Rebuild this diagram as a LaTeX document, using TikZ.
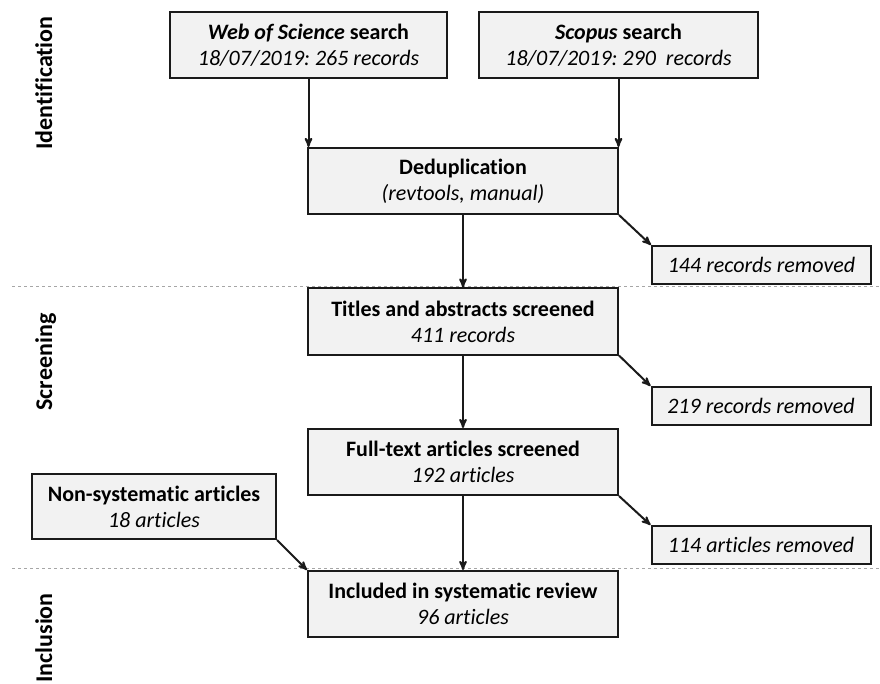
\documentclass[tikz,border=0pt]{standalone}
\usepackage{fontspec}
\setmainfont{Carlito}[Ligatures={TeX,NoCommon}]
\usetikzlibrary{arrows}
\definecolor{boxfill}{HTML}{F2F2F2}
\definecolor{boxline}{HTML}{1A1A1A}
\definecolor{sepline}{HTML}{A6A6A6}
\frenchspacing
\begin{document}
\begin{tikzpicture}[x=1pt,y=-1pt,>=stealth',
    box/.style={draw=boxline,fill=boxfill,line width=2pt,align=center,inner sep=0pt,
                minimum height=66pt,font=\fontsize{22}{26}\selectfont},
    removed/.style={box,minimum height=38pt,minimum width=219pt},
    phase/.style={rotate=90,anchor=base,font=\fontsize{24}{28}\selectfont\bfseries},
    flow/.style={->,line width=2pt,draw=boxline},
    sep/.style={draw=sepline,line width=1pt,dash pattern=on 3pt off 3pt}]
  \useasboundingbox (0,0) rectangle (880,684);

  % phase separators
  \draw[sep] (12,287) -- (880,287);
  \draw[sep] (12,568) -- (880,568);

  % phase labels
  \node[phase] (ident)  at (52,83)  {Identification};
  \node[phase] (screen) at (52,362) {Screening};
  \node[phase] (incl)   at (52,638) {Inclusion};

  % boxes
  \node[box,minimum width=277pt] (wos)    at (308.5,45) {\textbf{\textit{Web of Science} search}\\\textit{18/07/2019: 265 records}};
  \node[box,minimum width=279pt] (scopus) at (618.5,45) {\textbf{\textit{Scopus} search}\\\textit{18/07/2019: 290\ \ records}};
  \node[box,minimum width=310pt] (dedup)  at (463,181)  {\textbf{Deduplication}\\\textit{(revtools, manual)}};
  \node[removed] (rem1) at (761.5,265) {\textit{144 records removed}};
  \node[box,minimum width=310pt] (titles) at (463,321.5) {\textbf{Titles and abstracts screened}\\\textit{411 records}};
  \node[removed] (rem2) at (761,406) {\textit{219 records removed}};
  \node[box,minimum width=310pt] (full)   at (463,462)  {\textbf{Full-text articles screened}\\\textit{192 articles}};
  \node[box,minimum width=244pt,minimum height=65pt] (nonsys) at (154,506.5) {\textbf{Non-systematic articles}\\\textit{18 articles}};
  \node[removed] (rem3) at (761,545) {\textit{114 articles removed}};
  \node[box,minimum width=310pt] (review) at (463,604)  {\textbf{Included in systematic review}\\\textit{96 articles}};

  % connectors
  \draw[flow] (wos.south) -- (wos.south |- dedup.north);
  \draw[flow] (scopus.south) -- (scopus.south |- dedup.north);
  \draw[flow] (dedup.south) -- (titles.north);
  \draw[flow] (dedup.south east) -- (rem1.north west);
  \draw[flow] (titles.south) -- (full.north);
  \draw[flow] (titles.south east) -- (rem2.north west);
  \draw[flow] (full.south) -- (review.north);
  \draw[flow] (full.south east) -- (rem3.north west);
  \draw[flow] (nonsys.south east) -- (review.north west);
\end{tikzpicture}
\end{document}
